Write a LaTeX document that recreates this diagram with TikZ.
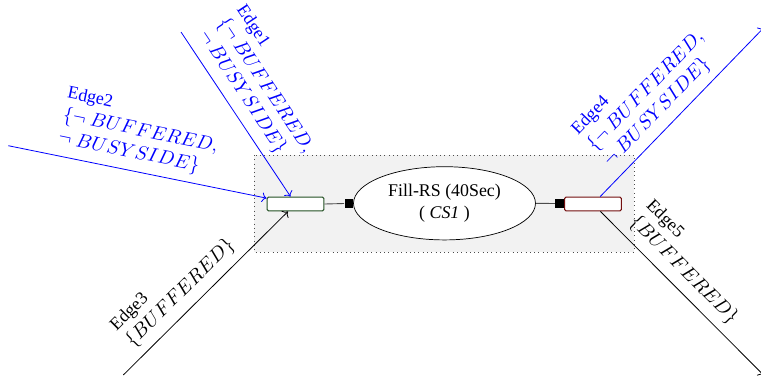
\documentclass[tikz,border=0pt]{standalone}
\usepackage{fontspec}
\setmainfont{Liberation Serif}
\usetikzlibrary{shapes.geometric,arrows.meta}
\definecolor{portgreen}{RGB}{35,80,35}
\definecolor{portred}{RGB}{115,15,15}
% guard condition set in slightly larger math
\newcommand{\guard}[1]{{\fontsize{10.7}{12.6}\selectfont$#1$}}
\tikzset{
  group/.style={draw=black!70, dotted, fill=black!5},
  port/.style={draw, fill=white, rounded corners=0.9pt, inner sep=0pt,
    line width=0.55pt, minimum width=31.9pt, minimum height=7.8pt},
  pin/.style={fill=black, inner sep=0pt, minimum width=4.6pt, minimum height=5pt},
  task/.style={ellipse, draw, fill=white, inner sep=0pt, minimum width=101.9pt,
    minimum height=41pt, align=center, font=\fontsize{10}{12.4}\selectfont},
  link/.style={draw=black!70, line width=0.5pt},
  edgeblue/.style={draw=blue, ->, line width=0.45pt},
  edgeblack/.style={draw=black, ->, line width=0.45pt},
  lbl/.style={sloped, anchor=south west, align=left, inner xsep=0pt,
    inner ysep=4.2pt, font=\fontsize{10}{12.8}\selectfont},
}
\begin{document}
\begin{tikzpicture}[x=0.56pt, y=-0.56pt]
  \useasboundingbox (0,0) rectangle (761,379);
  \clip (0,0) rectangle (761,379);

  % group frame
  \path[group] (254,155) rectangle (634,252);

  % task with its ports
  \node[task] (fill) at (444.5,203.3) {Fill-RS (40Sec)\\( \textit{CS1} )};
  \node[port, draw=portgreen] (lport) at (295.5,204) {};
  \node[port, draw=portred] (rport) at (593,204) {};
  \node[pin] (lpin) at (348.7,203.5) {};
  \node[pin] (rpin) at (559.4,203.5) {};
  \draw[link] (lport.east) -- (lpin.west);
  \draw[link] (fill.east) -- (rpin.west);

  % free ends of the edges
  \coordinate (s1) at (181,32);
  \coordinate (s2) at (8.3,145.7);
  \coordinate (s3) at (123.3,375);
  \coordinate (t4) at (763.5,28);
  \coordinate (t5) at (763.5,375);

  % incoming edges
  \draw[edgeblue] (s1) -- node[lbl, text=blue, pos=0.06]
    {Edge1\\\guard{\{\neg\ BUFFERED,}\\\guard{\neg\ BUSYSIDE\}}} (lport);
  \draw[edgeblue] (s2) -- node[lbl, text=blue, pos=0.18]
    {Edge2\\\guard{\{\neg\ BUFFERED,}\\\guard{\neg\ BUSYSIDE\}}} (lport);
  \draw[edgeblack] (s3) -- node[lbl, pos=0.11]
    {Edge3\\\guard{\{BUFFERED\}}} (lport);

  % outgoing edges
  \draw[edgeblue] (rport) -- node[lbl, text=blue, pos=0.12]
    {Edge4\\\guard{\{\neg\ BUFFERED,}\\\guard{\neg\ BUSYSIDE\}}} (t4);
  \draw[edgeblack] (rport) -- node[lbl, pos=0.12]
    {Edge5\\\guard{\{BUFFERED\}}} (t5);
\end{tikzpicture}
\end{document}
